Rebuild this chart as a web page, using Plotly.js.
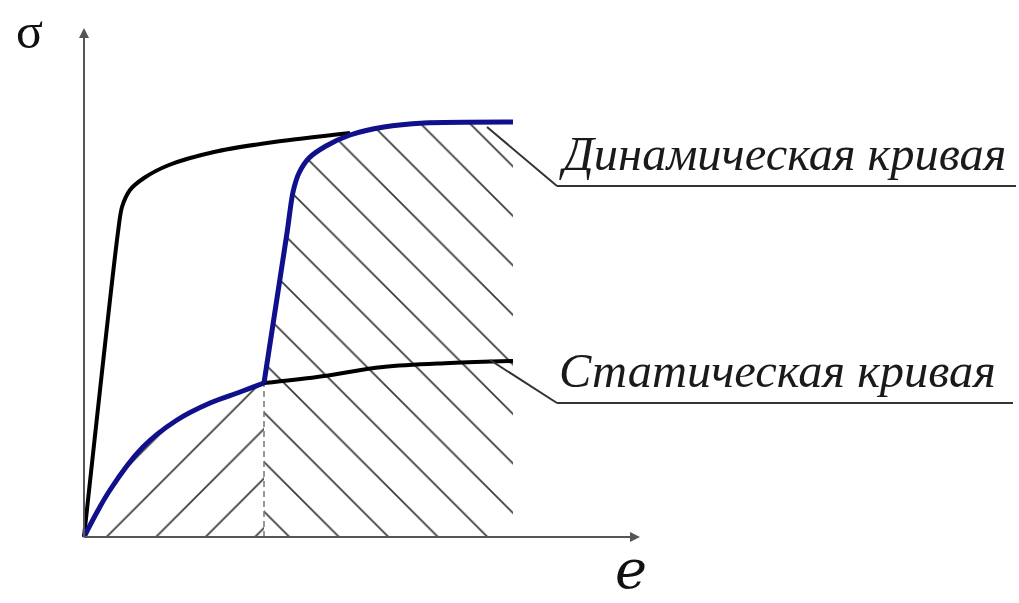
<!DOCTYPE html>
<html><head><meta charset="utf-8">
<script src="https://cdn.plot.ly/plotly-3.0.1.min.js"></script>
<style>html,body{margin:0;padding:0;background:#fff}</style>
</head><body><div id="chart" style="width:1019px;height:603px"></div>
<script>
// strain e / stress sigma values (arbitrary units)
const dynamicE = [0, 0.34, 0.38, 0.46, 0.60, 0.85, 1.30, 1.90, 2.66];
const dynamicS = [0, 3.05, 3.30, 3.47, 3.59, 3.72, 3.85, 3.95, 4.04];
const blueLowE = [0, 0.26, 0.59, 0.93, 1.26, 1.56, 1.80];
const blueLowS = [0, 0.47, 0.90, 1.17, 1.34, 1.45, 1.54];
const blueUpE = [1.80, 2.03, 2.09, 2.15, 2.25, 2.42, 2.66, 3.00, 3.40, 4.29];
const blueUpS = [1.54, 3.04, 3.45, 3.64, 3.79, 3.91, 4.02, 4.10, 4.14, 4.15];
const staticE = [1.80, 2.33, 2.99, 3.66, 4.29];
const staticS = [1.54, 1.60, 1.70, 1.74, 1.76];
const switchE = [1.80, 1.80];
const switchS = [0, 1.54];
const labels = {dyn: 'Динамическая кривая', stat: 'Статическая кривая', y: 'σ', x: 'e'};

const blue = '#10108c';
const hatch = {bgcolor: 'rgba(0,0,0,0)', fgcolor: '#3a3a3a', size: 35, solidity: 0.05};

const traces = [
  {x: blueLowE, y: blueLowS, mode: 'lines', line: {width: 0, shape: 'spline'}, fill: 'tozeroy',
   fillcolor: 'rgba(0,0,0,0)', fillpattern: Object.assign({shape: '/'}, hatch), hoverinfo: 'skip'},
  {x: blueUpE, y: blueUpS, mode: 'lines', line: {width: 0, shape: 'spline', smoothing: 0.8}, fill: 'tozeroy',
   fillcolor: 'rgba(0,0,0,0)', fillpattern: Object.assign({shape: '\\'}, hatch), hoverinfo: 'skip'},
  {x: switchE, y: switchS, mode: 'lines', line: {color: '#777', width: 1.5, dash: '6px,4px'}},
  {x: dynamicE, y: dynamicS, mode: 'lines', line: {color: '#000', width: 4, shape: 'spline', smoothing: 0.8}},
  {x: staticE, y: staticS, mode: 'lines', line: {color: '#000', width: 4, shape: 'spline'}},
  {x: blueLowE, y: blueLowS, mode: 'lines', line: {color: blue, width: 5, shape: 'spline'}},
  {x: blueUpE, y: blueUpS, mode: 'lines', line: {color: blue, width: 5, shape: 'spline', smoothing: 0.8}}
];

const txtFont = {family: 'Liberation Serif', size: 48.5, color: '#1a1a1a', style: 'italic'};
const layout = {
  width: 1019, height: 603, margin: {l: 0, r: 0, t: 0, b: 0},
  paper_bgcolor: '#fff', plot_bgcolor: '#fff', showlegend: false,
  xaxis: {range: [-0.84, 9.35], visible: false, fixedrange: true},
  yaxis: {range: [-0.66, 5.37], visible: false, fixedrange: true},
  shapes: [
    {type: 'line', xref: 'x', yref: 'y', x0: 4.03, y0: 4.10, x1: 4.73, y1: 3.51, line: {color: '#333', width: 2}},
    {type: 'line', xref: 'x', yref: 'y', x0: 4.73, y0: 3.51, x1: 9.32, y1: 3.51, line: {color: '#333', width: 2}},
    {type: 'line', xref: 'x', yref: 'y', x0: 4.06, y0: 1.77, x1: 4.73, y1: 1.34, line: {color: '#333', width: 2}},
    {type: 'line', xref: 'x', yref: 'y', x0: 4.73, y0: 1.34, x1: 9.29, y1: 1.34, line: {color: '#333', width: 2}}
  ],
  annotations: [
    {x: 0, y: 5.09, ax: 0, ay: -0.02, xref: 'x', yref: 'y', axref: 'x', ayref: 'y', text: '', showarrow: true,
     arrowhead: 2, arrowsize: 1, arrowwidth: 2, arrowcolor: '#555'},
    {x: 5.56, y: 0, ax: -0.01, ay: 0, xref: 'x', yref: 'y', axref: 'x', ayref: 'y', text: '', showarrow: true,
     arrowhead: 2, arrowsize: 1, arrowwidth: 2, arrowcolor: '#555'},
    {x: 4.73, y: 3.55, xref: 'x', yref: 'y', xanchor: 'left', yanchor: 'bottom', showarrow: false,
     text: labels.dyn, font: txtFont},
    {x: 4.73, y: 1.38, xref: 'x', yref: 'y', xanchor: 'left', yanchor: 'bottom', showarrow: false,
     text: labels.stat, font: txtFont},
    {x: -0.55, y: 5.06, xref: 'x', yref: 'y', showarrow: false, text: labels.y,
     font: {family: 'Liberation Serif', size: 50, color: '#111'}},
    {x: 5.47, y: -0.66, xref: 'x', yref: 'y', yanchor: 'bottom', showarrow: false, text: labels.x,
     font: {family: 'DejaVu Serif', size: 54, color: '#111', style: 'italic'}}
  ]
};
Plotly.newPlot('chart', traces, layout, {staticPlot: true});
</script></body></html>
